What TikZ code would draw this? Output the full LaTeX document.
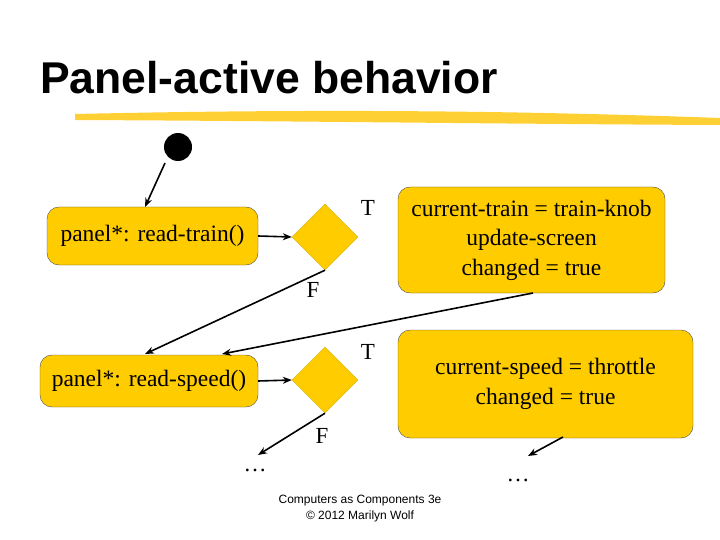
\documentclass[tikz,border=0pt]{standalone}
\usepackage{fontspec}
\setmainfont{Liberation Serif}
\newfontfamily\arialf{Liberation Sans}
\usetikzlibrary{shapes.geometric,arrows.meta}
\definecolor{gold}{RGB}{255,204,0}
\begin{document}
\begin{tikzpicture}[x=1pt,y=-1pt,
  box/.style={draw=black!70,fill=gold,rounded corners=12pt,inner sep=0pt,align=center,font=\fontsize{23.5}{29.5}\selectfont},
  dia/.style={diamond,fill=gold,draw=gold!85!black,minimum width=66pt,minimum height=66pt,inner sep=0pt},
  lbl/.style={font=\fontsize{23}{26}\selectfont},
  arr/.style={-{Stealth[length=9pt,width=7pt]},line width=1.6pt}]
\useasboundingbox (0,0) rectangle (720,540);
\node[anchor=base west,font=\arialf\bfseries\fontsize{44.5}{50}\selectfont,inner sep=0pt] (title) at (40,94) {Panel-active behavior};
\fill[gold!90!orange,opacity=0.8] (75,114) .. controls (300,109) and (500,110) .. (720,118) -- (720,125) .. controls (500,124) and (300,121) .. (75,120) -- cycle;
\fill[black] (178,147) circle (14) coordinate (start);
\node[box,minimum width=211pt,minimum height=58pt] (b1) at (152.5,236) {panel*: read-train()};
\node[dia] (d1) at (325,237) {};
\node[box,minimum width=267pt,minimum height=106pt] (b2) at (531.5,240) {current-train = train-knob\\update-screen\\changed = true};
\node[box,minimum width=218pt,minimum height=52pt] (b3) at (149,381) {panel*: read-speed()};
\node[dia] (d2) at (325,380) {};
\node[box,minimum width=295pt,minimum height=108pt] (b4) at (545.5,384) {current-speed = throttle\\changed = true};
\node[lbl] (t1) at (368,208) {T};
\node[lbl] (f1) at (313,290) {F};
\node[lbl] (t2) at (368,352) {T};
\node[lbl] (f2) at (322,436) {F};
\node[lbl] (e1) at (255,470) {\dots};
\node[lbl] (e2) at (518,480) {\dots};
\coordinate (e1a) at (258,455);
\coordinate (e2a) at (528,456);
\draw[arr] (165,163) -- (145,207);
\draw[arr] (b1.east) -- (d1.west);
\draw[arr] (b3.east) -- (d2.west);
\draw[arr] (d1.south) -- (145,354);
\draw[arr] (533,293) -- (222,354);
\draw[arr] (d2.south) -- (e1a);
\draw[arr] (563,437) -- (e2a);
\node[font=\arialf\fontsize{12}{16}\selectfont,align=center] (foot) at (360,509) {Computers as Components 3e\\\textcopyright{} 2012 Marilyn Wolf};
\end{tikzpicture}
\end{document}
